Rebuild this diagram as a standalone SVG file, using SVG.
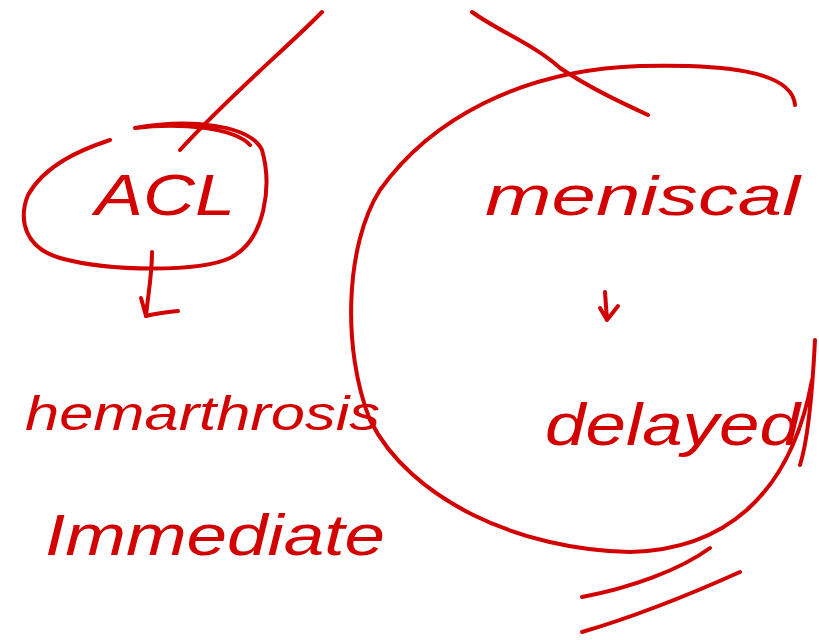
<svg xmlns="http://www.w3.org/2000/svg" width="819" height="640" viewBox="0 0 819 640">
<style>
.s{fill:none;stroke:#d20000;stroke-width:4;stroke-linecap:round;stroke-linejoin:round}
.t{fill:#d20000;font-family:"Liberation Sans","DejaVu Sans",sans-serif;font-style:italic}
</style>
<rect width="819" height="640" fill="#fff"/>
<g id="connectors">
<path class="s" d="M322,12 C290,45 230,95 180,150"/>
<path class="s" d="M472,12 C500,32 535,45 560,68 C590,88 620,102 648,115"/>
<path class="s" d="M152,252 C152,275 148,295 146,316 C158,313 168,312 178,311"/>
<path class="s" d="M141,298 L146,316"/>
<path class="s" d="M605,292 L607,320 M600,308 L607,320 L618,306"/>
<path class="s" d="M582,597 C630,588 680,570 710,548"/>
<path class="s" d="M582,632 C640,615 700,590 740,572"/>
</g>
<g id="acl">
<path class="s" d="M135,128 C190,118 250,125 262,150 C272,185 266,240 230,258 C200,272 110,272 60,258 C25,248 18,220 28,195 C45,165 80,150 110,140 M135,128 C180,122 235,128 250,145"/>
<text class="t" x="95" y="215" font-size="58" textLength="140" lengthAdjust="spacingAndGlyphs">ACL</text>
</g>
<g id="hemarthrosis">
<text class="t" x="25" y="430" font-size="48" textLength="355" lengthAdjust="spacingAndGlyphs">hemarthrosis</text>
</g>
<g id="immediate">
<text class="t" x="45" y="555" font-size="58" textLength="340" lengthAdjust="spacingAndGlyphs">Immediate</text>
</g>
<g id="meniscal">
<path class="s" d="M795,105 C792,70 720,64 640,66 C520,70 430,120 380,190 C345,245 342,350 370,420 C410,500 520,550 630,552 C720,550 790,500 812,380 M815,340 C812,400 808,440 800,465"/>
<text class="t" x="485" y="215" font-size="55" textLength="315" lengthAdjust="spacingAndGlyphs">meniscal</text>
</g>
<g id="delayed">
<text class="t" x="545" y="445" font-size="60" textLength="255" lengthAdjust="spacingAndGlyphs">delayed</text>
</g>
</svg>
